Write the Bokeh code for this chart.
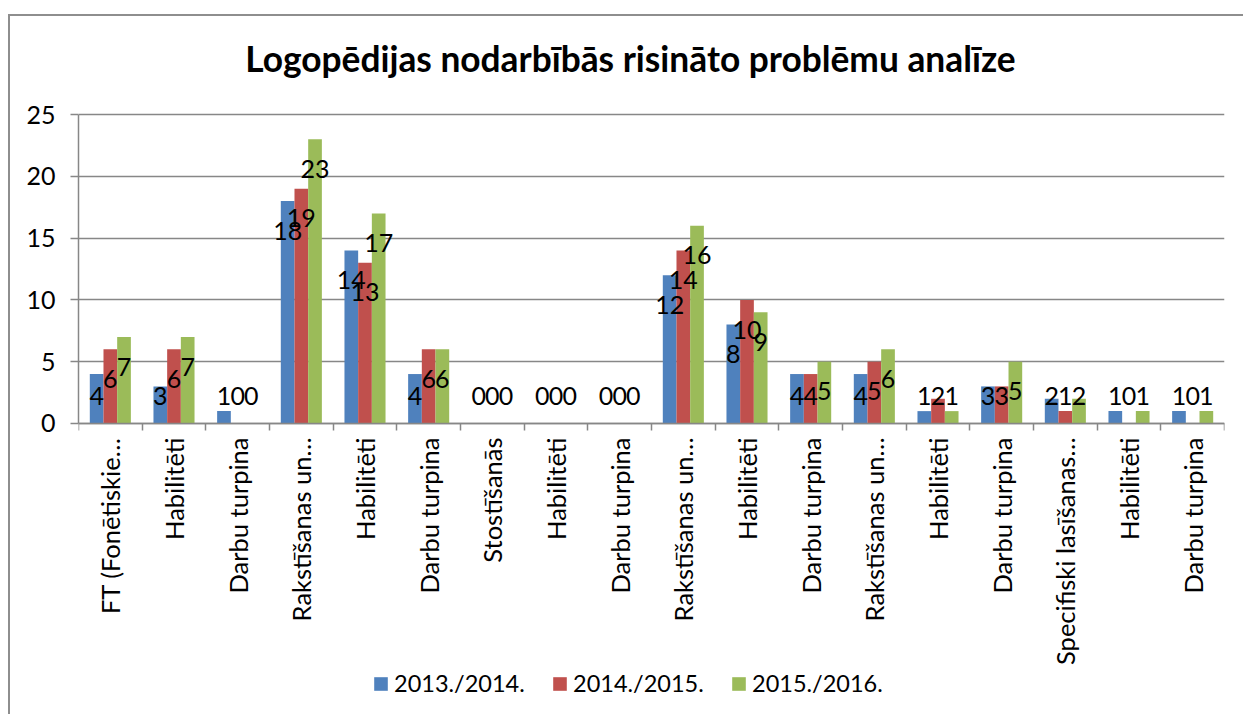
import numpy as np
from bokeh.plotting import figure
from bokeh.models import (ColumnDataSource, Range1d, FixedTicker, Legend, LegendItem, Label)
from bokeh.core.properties import value
from bokeh.embed import file_html
from bokeh.resources import INLINE

categories = ["FT (Fonētiskie…", "Habilitēti", "Darbu turpina", "Rakstīšanas un…",
              "Habilitēti", "Darbu turpina", "Stostīšanās", "Habilitēti", "Darbu turpina",
              "Rakstīšanas un…", "Habilitēti", "Darbu turpina", "Rakstīšanas un…",
              "Habilitēti", "Darbu turpina", "Specifiski lasīšanas…", "Habilitēti",
              "Darbu turpina"]
series_names = ["2013./2014.", "2014./2015.", "2015./2016."]
v2013 = [4, 3, 1, 18, 14, 4, 0, 0, 0, 12, 8, 4, 4, 1, 3, 2, 1, 1]
v2014 = [6, 6, 0, 19, 13, 6, 0, 0, 0, 14, 10, 4, 5, 2, 3, 1, 0, 0]
v2015 = [7, 7, 0, 23, 17, 6, 0, 0, 0, 16, 9, 5, 6, 1, 5, 2, 1, 1]
colors = ["#4F81BD", "#C0504D", "#9BBB59"]
y_ticks = [0, 5, 10, 15, 20, 25]
title_text = "Logopēdijas nodarbībās risināto problēmu analīze"

FONT = "Lato"
GRID = "#878787"

# frame spans the whole chart box; category labels, title and legend live inside it
p = figure(width=1235, height=700, x_range=Range1d(-0.5, 17.5), y_range=Range1d(-22.90, 32.93),
           output_backend="svg", toolbar_location=None, title=None,
           min_border_left=68, min_border_right=21, min_border_top=0, min_border_bottom=10)
p.margin = (14, 0, 0, 8)
p.styles = {"border-top": "2px solid #8e8e8e", "border-left": "2px solid #8e8e8e"}
p.outline_line_color = None

p.add_layout(Label(x=552, y=648, x_units="screen", y_units="screen", text=title_text,
                   text_align="center", text_baseline="middle", text_font=FONT,
                   text_font_size="35.3px", text_font_style="bold", text_color="black"))

x = np.arange(len(categories))
bw = 0.215
offsets = [-bw, 0.0, bw]
all_vals = [v2013, v2014, v2015]
items = []
sources = []
# bars first
for vals, off, col, name in zip(all_vals, offsets, colors, series_names):
    vals = np.array(vals, dtype=float)
    src = ColumnDataSource(dict(x=x + off, top=vals,
                                ly=np.maximum(vals - 2.4, 2.2),
                                txt=[str(int(v)) for v in vals]))
    sources.append(src)
    r = p.vbar(x="x", top="top", bottom=0, width=bw, source=src,
               fill_color=col, line_color=None)
    items.append(LegendItem(label=name, renderers=[r]))

# then data labels on top of all bars
for src in sources:
    p.text(x="x", y="ly", text="txt", source=src, text_align="center",
           text_baseline="middle", text_font=value(FONT), text_font_size="25px",
           text_color="black")

# category labels, rotated to read bottom-to-top, hanging under the zero line
cat_src = ColumnDataSource(dict(x=x, y=np.zeros(len(categories)), t=categories))
p.text(x="x", y="y", text="t", source=cat_src, angle=np.pi / 2, text_align="right",
       text_baseline="middle", y_offset=14, text_font=value(FONT),
       text_font_size="25.5px", text_color="black")

# x axis drawn at y = 0 (ticks only)
xa = p.xaxis[0]
xa.fixed_location = 0
xa.ticker = FixedTicker(ticks=[], minor_ticks=[i - 0.5 for i in range(len(categories) + 1)])
xa.major_label_text_font_size = "0px"
xa.major_label_standoff = 0
xa.major_tick_line_color = None
xa.minor_tick_line_color = GRID
xa.minor_tick_out = 7
xa.minor_tick_in = 0
xa.minor_tick_line_width = 1.5
xa.axis_line_color = GRID
xa.axis_line_width = 1.5

ya = p.yaxis[0]
ya.ticker = FixedTicker(ticks=y_ticks)
ya.bounds = (0, 25)
ya.major_tick_out = 8
ya.major_tick_in = 0
ya.major_tick_line_color = GRID
ya.major_tick_line_width = 1.5
ya.minor_tick_line_color = None
ya.axis_line_color = GRID
ya.axis_line_width = 1.5
ya.major_label_text_font = FONT
ya.major_label_text_font_size = "25px"
ya.major_label_text_color = "black"
ya.major_label_standoff = 15

p.xgrid.grid_line_color = None
p.ygrid.grid_line_color = GRID
p.ygrid.grid_line_width = 1.5
p.ygrid.ticker = FixedTicker(ticks=y_ticks)

legend = Legend(items=items, orientation="horizontal", location=(294, 9),
                glyph_width=17, glyph_height=17, label_width=157, label_height=17,
                label_standoff=5, spacing=0, padding=0, margin=0,
                label_text_font=FONT, label_text_font_size="23.5px",
                label_text_color="black", border_line_color=None,
                background_fill_alpha=0)
p.add_layout(legend, "center")

open("out.html", "w").write(file_html(p, INLINE))
